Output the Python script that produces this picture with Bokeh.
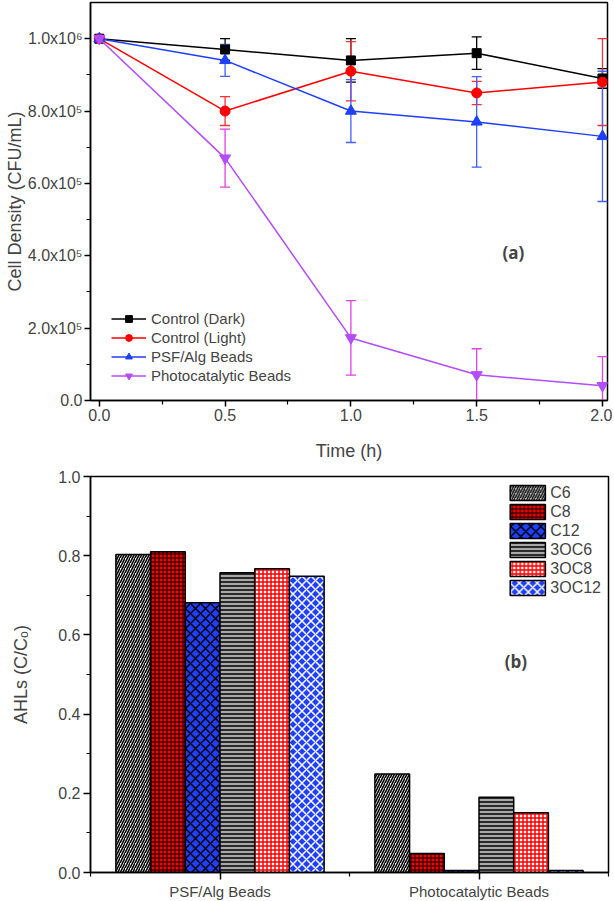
from bokeh.plotting import figure
from bokeh.models import (ColumnDataSource, Whisker, TeeHead, FixedTicker, Legend, LegendItem,
                          Label, Range1d, PrintfTickFormatter)
from bokeh.layouts import column
from bokeh.embed import file_html
from bokeh.resources import INLINE

# ---------------- data: panel (a) ----------------
time_h = [0.0, 0.5, 1.0, 1.5, 2.0]
dark = [1.0e6, 0.97e6, 0.94e6, 0.96e6, 0.89e6]
dark_err = [0.0, 0.03e6, 0.06e6, 0.045e6, 0.027e6]
light = [1.0e6, 0.80e6, 0.91e6, 0.85e6, 0.88e6]
light_err = [0.0, 0.04e6, 0.082e6, 0.032e6, 0.12e6]
psf = [1.0e6, 0.94e6, 0.80e6, 0.77e6, 0.73e6]
psf_err = [0.0, 0.044e6, 0.087e6, 0.125e6, 0.18e6]
photo = [1.0e6, 0.67e6, 0.173e6, 0.071e6, 0.041e6]
photo_err = [0.0, 0.08e6, 0.103e6, 0.072e6, 0.08e6]
series_names = ["Control (Dark)", "Control (Light)", "PSF/Alg Beads", "Photocatalytic Beads"]
y_ticks_a = [0, 200000, 400000, 600000, 800000, 1000000]
y_tick_labels_a = ["0.0", "2.0x10\u2075", "4.0x10\u2075", "6.0x10\u2075", "8.0x10\u2075", "1.0x10\u2076"]
x_ticks_a = [0.0, 0.5, 1.0, 1.5, 2.0]

# ---------------- data: panel (b) ----------------
groups = ["PSF/Alg Beads", "Photocatalytic Beads"]
ahls = ["C6", "C8", "C12", "3OC6", "3OC8", "3OC12"]
ahl_psf = [0.803, 0.810, 0.681, 0.757, 0.767, 0.748]
ahl_photo = [0.249, 0.048, 0.005, 0.190, 0.151, 0.005]
y_ticks_b = [0.0, 0.2, 0.4, 0.6, 0.8, 1.0]

FONT = "Liberation Sans"

# ================= panel (a) =================
pa = figure(frame_width=517, frame_height=398, output_backend="svg", toolbar_location=None,
            x_range=Range1d(-0.035, 2.02), y_range=Range1d(0, 1.1e6),
            min_border_left=90, min_border_right=5, min_border_top=2, min_border_bottom=63)
pa.grid.visible = False
pa.outline_line_color = "black"
pa.outline_line_width = 1.5

styles = [
    dict(data=dark, err=dark_err, color="#000000", ecolor="#000000", marker="square", size=9),
    dict(data=light, err=light_err, color="#ff0000", ecolor="#ff3030", marker="circle", size=10),
    dict(data=psf, err=psf_err, color="#1f3fff", ecolor="#4060ff", marker="triangle", size=11),
    dict(data=photo, err=photo_err, color="#b44cff", ecolor="#e040e8", marker="inverted_triangle", size=11),
]
items = []
for name, st in zip(series_names, styles):
    up = [v + e for v, e in zip(st["data"], st["err"])]
    lo = [v - e for v, e in zip(st["data"], st["err"])]
    src = ColumnDataSource(dict(x=time_h, y=st["data"], up=up, lo=lo))
    w = Whisker(source=src, base="x", upper="up", lower="lo",
                line_color=st["ecolor"], line_width=1.3,
                upper_head=TeeHead(size=10, line_color=st["ecolor"], line_width=1.3),
                lower_head=TeeHead(size=10, line_color=st["ecolor"], line_width=1.3))
    pa.add_layout(w)
    lr = pa.line("x", "y", source=src, line_color=st["color"], line_width=1.5)
    sr = pa.scatter("x", "y", source=src, marker=st["marker"], size=st["size"],
                    fill_color=st["color"], line_color=st["color"])
    items.append(LegendItem(label=name, renderers=[lr, sr]))

leg_a = Legend(items=items, location=(21, 16), border_line_color=None,
               background_fill_alpha=0, padding=0, margin=0, spacing=2,
               glyph_width=35, glyph_height=17, label_height=17, label_standoff=5,
               label_text_font=FONT, label_text_font_size="15px")
pa.add_layout(leg_a)

pa.xaxis.ticker = FixedTicker(ticks=x_ticks_a, minor_ticks=[0.25, 0.75, 1.25, 1.75])
pa.xaxis.formatter = PrintfTickFormatter(format="%.1f")
pa.yaxis.ticker = FixedTicker(ticks=y_ticks_a, minor_ticks=[100000, 300000, 500000, 700000, 900000])
pa.yaxis.major_label_overrides = {t: l for t, l in zip(y_ticks_a, y_tick_labels_a)}
pa.xaxis.axis_label = "Time (h)"
pa.yaxis.axis_label = "Cell Density (CFU/mL)"
for ax in (pa.xaxis, pa.yaxis):
    ax.axis_line_width = 1.5
    ax.major_tick_line_width = 1.5
    ax.minor_tick_line_width = 1.2
    ax.major_tick_out = 6
    ax.major_tick_in = 0
    ax.minor_tick_out = 4
    ax.minor_tick_in = 0
    ax.major_label_standoff = 2
    ax.major_label_text_font = FONT
    ax.major_label_text_font_size = "16px"
    ax.axis_label_text_font = FONT
    ax.axis_label_text_font_size = "18px"
    ax.axis_label_text_font_style = "normal"
pa.xaxis.axis_label_standoff = 17
pa.yaxis.axis_label_standoff = 0

pa.add_layout(Label(x=1.646, y=4.09e5, text="(a)", text_font="Open Sans", text_font_style="bold",
                    text_font_size="17px", text_align="center", text_baseline="middle"))

# ================= panel (b) =================
pb = figure(frame_width=518, frame_height=396, output_backend="svg", toolbar_location=None,
            x_range=Range1d(0.5, 2.5), y_range=Range1d(0, 1.0),
            min_border_left=90, min_border_right=4, min_border_top=13, min_border_bottom=28)
pb.grid.visible = False
pb.outline_line_color = "black"
pb.outline_line_width = 1.5

bar_w = 0.134
bar_styles = [
    dict(fill="#ffffff", hatch="/", hcolor="#000000", scale=5, weight=1.6),
    dict(fill="#ff0000", hatch="+", hcolor="#000000", scale=4, weight=1.0),
    dict(fill="#2040ff", hatch="x", hcolor="#000000", scale=10, weight=1.5),
    dict(fill="#a8a8a8", hatch="-", hcolor="#000000", scale=4, weight=1.5),
    dict(fill="#ffffff", hatch="+", hcolor="#ff0000", scale=4, weight=1.5),
    dict(fill="#2040ff", hatch="x", hcolor="#ffffff", scale=9, weight=1.5),
]
bitems = []
for i, (name, st) in enumerate(zip(ahls, bar_styles)):
    xs = [g + 1 + (i - 2.5) * bar_w for g in range(len(groups))]
    tops = [ahl_psf[i], ahl_photo[i]]
    src = ColumnDataSource(dict(x=xs, top=tops))
    r = pb.vbar(x="x", top="top", bottom=0, width=bar_w, source=src,
                fill_color=st["fill"], line_color="black", line_width=1.5,
                hatch_pattern=st["hatch"], hatch_color=st["hcolor"],
                hatch_scale=st["scale"], hatch_weight=st["weight"])
    bitems.append(LegendItem(label=name, renderers=[r]))

leg_b = Legend(items=bitems, location="top_right", border_line_color=None,
               background_fill_alpha=0, padding=0, margin=7, spacing=0,
               glyph_width=44, glyph_height=19, label_height=19, label_standoff=1,
               label_text_font=FONT, label_text_font_size="16px")
pb.add_layout(leg_b)

pb.xaxis.ticker = FixedTicker(ticks=[1, 2], minor_ticks=[0.5, 1.5, 2.5])
pb.xaxis.major_label_overrides = {1: groups[0], 2: groups[1]}
pb.yaxis.ticker = FixedTicker(ticks=y_ticks_b, minor_ticks=[0.1, 0.3, 0.5, 0.7, 0.9])
pb.yaxis.formatter = PrintfTickFormatter(format="%.1f")
pb.yaxis.axis_label = "AHLs (C/C\u2092)"
for ax in (pb.xaxis, pb.yaxis):
    ax.axis_line_width = 1.5
    ax.major_tick_line_width = 1.5
    ax.minor_tick_line_width = 1.2
    ax.major_tick_out = 7
    ax.major_tick_in = 0
    ax.minor_tick_out = 4
    ax.minor_tick_in = 0
    ax.major_label_standoff = 3
    ax.major_label_text_font = FONT
    ax.major_label_text_font_size = "16px"
    ax.axis_label_text_font = FONT
    ax.axis_label_text_font_size = "18px"
    ax.axis_label_text_font_style = "normal"
pb.xaxis.major_label_text_font_size = "15px"
pb.yaxis.axis_label_standoff = 24

pb.add_layout(Label(x=2.142, y=0.533, text="(b)", text_font="Open Sans", text_font_style="bold",
                    text_font_size="17px", text_align="center", text_baseline="middle"))

layout = column(pa, pb, spacing=0)
open("out.html", "w").write(file_html(layout, INLINE))
